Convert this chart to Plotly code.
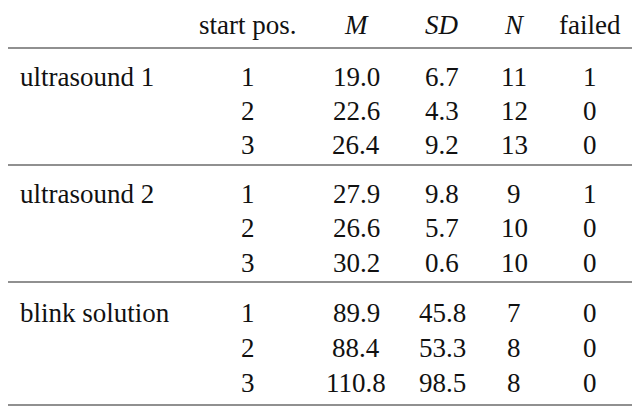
import plotly.graph_objects as go

headers = ["start pos.", "<i>M</i>", "<i>SD</i>", "<i>N</i>", "failed"]
groups = ["ultrasound 1", "ultrasound 2", "blink solution"]
start_pos = ["1", "2", "3"] * 3
M = ["19.0", "22.6", "26.4", "27.9", "26.6", "30.2", "89.9", "88.4", "110.8"]
SD = ["6.7", "4.3", "9.2", "9.8", "5.7", "0.6", "45.8", "53.3", "98.5"]
N = ["11", "12", "13", "9", "10", "10", "7", "8", "8"]
failed = ["1", "0", "0", "1", "0", "0", "0", "0", "0"]

col_x = [248, 356, 442, 514, 590]
header_y = 25
row_y = [77, 111, 145, 194, 228, 263, 313, 348, 383]
group_y = [77, 194, 313]
lines_y = [5, 48, 165, 282, 405]
font = dict(family="Liberation Serif", size=27, color="#111")

fig = go.Figure()
ann = []
for x, h in zip(col_x, headers):
    ann.append(dict(x=x, y=header_y, text=h, showarrow=False, xanchor="center", yanchor="middle", font=font))
for g, y in zip(groups, group_y):
    ann.append(dict(x=18, y=y, text=g, showarrow=False, xanchor="left", yanchor="middle", font=font))
for i, y in enumerate(row_y):
    for x, col in zip(col_x, [start_pos, M, SD, N, failed]):
        ann.append(dict(x=x, y=y, text=col[i], showarrow=False, xanchor="center", yanchor="middle", font=font))
shapes = [dict(type="line", x0=0, x1=640, y0=y, y1=y, line=dict(color="#222", width=1.2)) for y in lines_y]
fig.update_layout(width=640, height=410, margin=dict(l=0, r=0, t=0, b=0),
                  plot_bgcolor="white", paper_bgcolor="white",
                  xaxis=dict(range=[8, 648], visible=False),
                  yaxis=dict(range=[418, 8], visible=False),
                  annotations=ann, shapes=shapes, showlegend=False)
fig.write_html("out.html")
